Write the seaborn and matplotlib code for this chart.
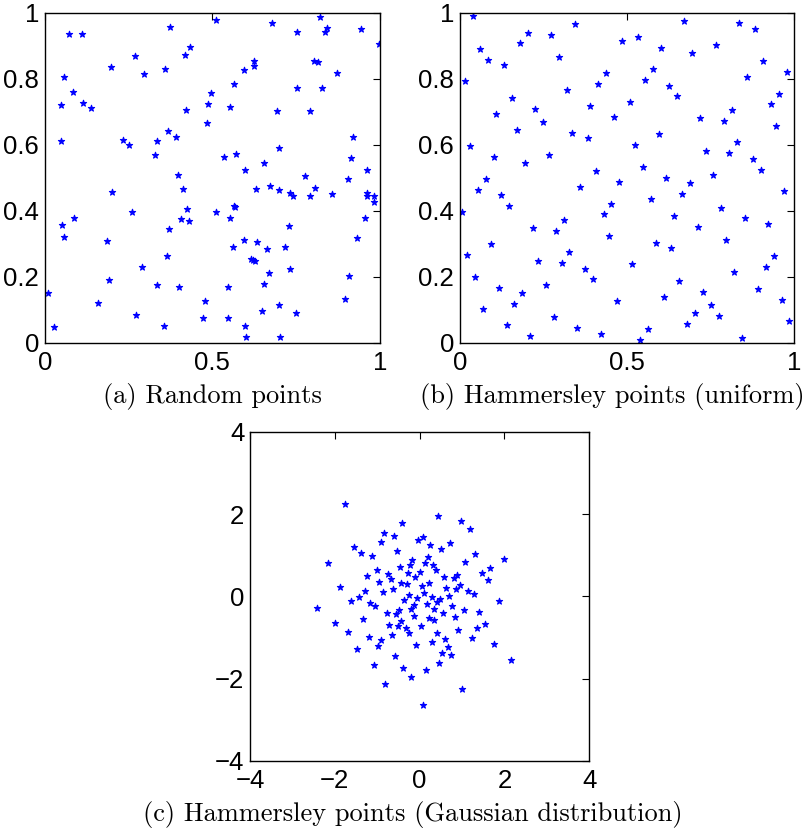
import matplotlib
matplotlib.use("Agg")
import matplotlib.pyplot as plt
import seaborn as sns
import pandas as pd

# ---------------- data ----------------
# (a) Random points
rand_x = [0.072, 0.112, 0.375, 0.434, 0.420, 0.270, 0.198, 0.359, 0.296, 0.058, 0.083, 0.049, 0.114,
          0.139, 0.496, 0.488, 0.422, 0.484, 0.049, 0.234, 0.253, 0.367, 0.391, 0.334, 0.328, 0.397,
          0.512, 0.679, 0.823, 0.754, 0.837, 0.844, 0.945, 0.999, 0.626, 0.626, 0.595, 0.803, 0.815,
          0.873, 0.566, 0.754, 0.829, 0.553, 0.693, 0.791, 0.919, 0.699, 0.536, 0.571, 0.915, 0.656,
          0.598, 0.961, 0.776, 0.904,
          0.413, 0.201, 0.425, 0.262, 0.088, 0.053, 0.059, 0.408, 0.432, 0.372, 0.185, 0.365, 0.291,
          0.193, 0.335, 0.400, 0.010, 0.160, 0.478, 0.273, 0.473, 0.029, 0.356,
          0.632, 0.673, 0.700, 0.733, 0.740, 0.807, 0.793, 0.858, 0.961, 0.962, 0.983, 0.983, 0.566,
          0.569, 0.511, 0.553, 0.956, 0.730, 0.931, 0.595, 0.634, 0.561, 0.665, 0.716, 0.616, 0.621,
          0.627, 0.670, 0.732, 0.909, 0.548, 0.656, 0.897, 0.700, 0.650, 0.750, 0.548, 0.597, 0.602,
          0.702]
rand_y = [0.935, 0.935, 0.958, 0.897, 0.872, 0.870, 0.834, 0.830, 0.813, 0.806, 0.761, 0.720, 0.725,
          0.711, 0.758, 0.724, 0.706, 0.666, 0.612, 0.613, 0.599, 0.642, 0.623, 0.610, 0.570, 0.509,
          0.978, 0.970, 0.987, 0.942, 0.943, 0.953, 0.951, 0.904, 0.853, 0.839, 0.825, 0.854, 0.850,
          0.818, 0.785, 0.771, 0.772, 0.715, 0.703, 0.703, 0.622, 0.589, 0.564, 0.571, 0.560, 0.544,
          0.523, 0.523, 0.505, 0.495,
          0.467, 0.458, 0.404, 0.396, 0.377, 0.358, 0.321, 0.375, 0.369, 0.345, 0.309, 0.264, 0.230,
          0.190, 0.175, 0.169, 0.151, 0.120, 0.125, 0.084, 0.076, 0.048, 0.052,
          0.466, 0.475, 0.463, 0.455, 0.445, 0.469, 0.445, 0.452, 0.453, 0.445, 0.445, 0.426, 0.413,
          0.410, 0.396, 0.378, 0.377, 0.355, 0.317, 0.310, 0.304, 0.289, 0.284, 0.289, 0.254, 0.250,
          0.248, 0.212, 0.224, 0.202, 0.169, 0.178, 0.133, 0.115, 0.095, 0.091, 0.074, 0.052, 0.017,
          0.017]

# (b) Hammersley points (uniform)
ham_x = [0.039, 0.344, 0.203, 0.274, 0.485, 0.179, 0.062, 0.086, 0.297, 0.133, 0.438, 0.015, 0.414,
         0.321, 0.156, 0.390, 0.226, 0.109, 0.461, 0.250, 0.171, 0.336, 0.383, 0.031, 0.266, 0.102,
         0.195, 0.406,
         0.532, 0.671, 0.836, 0.883, 0.602, 0.767, 0.695, 0.907, 0.578, 0.977, 0.860, 0.555, 0.626,
         0.954, 0.649, 0.508, 0.930, 0.814, 0.719, 0.790, 0.946, 0.595, 0.524, 0.829, 0.735, 0.806,
         0.876, 0.548, 0.900,
         0.078, 0.477, 0.054, 0.360, 0.124, 0.148, 0.453, 0.007, 0.430, 0.313, 0.218, 0.289, 0.445,
         0.094, 0.023, 0.328, 0.235, 0.305, 0.375, 0.047, 0.398, 0.258, 0.117, 0.187, 0.469, 0.163,
         0.071, 0.281, 0.140, 0.351, 0.421, 0.211,
         0.617, 0.758, 0.688, 0.969, 0.571, 0.664, 0.782, 0.640, 0.853, 0.922, 0.711, 0.797, 0.586,
         0.632, 0.938, 0.516, 0.914, 0.821, 0.656, 0.892, 0.727, 0.610, 0.962, 0.750, 0.704, 0.774,
         0.985, 0.680, 0.563, 0.845, 0.540]
ham_y = [0.989, 0.965, 0.939, 0.932, 0.915, 0.907, 0.890, 0.858, 0.866, 0.842, 0.816, 0.792, 0.783,
         0.767, 0.742, 0.717, 0.709, 0.693, 0.685, 0.669, 0.644, 0.635, 0.619, 0.595, 0.570, 0.562,
         0.545, 0.520,
         0.926, 0.976, 0.968, 0.952, 0.894, 0.902, 0.878, 0.853, 0.829, 0.820, 0.804, 0.796, 0.779,
         0.755, 0.747, 0.730, 0.722, 0.705, 0.681, 0.673, 0.657, 0.632, 0.599, 0.607, 0.582, 0.574,
         0.558, 0.533, 0.524,
         0.496, 0.488, 0.463, 0.471, 0.447, 0.413, 0.421, 0.397, 0.389, 0.373, 0.348, 0.339, 0.323,
         0.298, 0.266, 0.274, 0.248, 0.241, 0.224, 0.200, 0.192, 0.175, 0.167, 0.151, 0.126, 0.118,
         0.101, 0.077, 0.053, 0.045, 0.027, 0.019,
         0.500, 0.507, 0.484, 0.460, 0.435, 0.451, 0.409, 0.385, 0.377, 0.361, 0.352, 0.311, 0.303,
         0.287, 0.263, 0.238, 0.229, 0.213, 0.188, 0.164, 0.155, 0.139, 0.130, 0.114, 0.090, 0.081,
         0.065, 0.057, 0.041, 0.015, 0.008]

# (c) Hammersley points (Gaussian distribution)
gau_x = [-1.77, 0.44, 0.97, 1.19, -0.41, -0.84, -0.61, 0.07, -0.04, -0.92, 0.72, 0.25, -1.54, 0.51,
         -0.53, -1.38, 1.31, -1.12, 0.19, -0.17, 1.98, 1.08, 0.13, -2.16, -0.23, 0.31, -0.47, 0.38,
         1.67, -1.01, 0.01, -0.28, -0.75, 1.47, 0.88, -1.23, 0.58, -0.10, -0.68, 0.80, 1.60, -0.96,
         -0.43, 0.23, -0.31, 0.94, 0.05, -1.87, 0.63, 0.86, -0.63, -1.28, 1.15, -0.86, 0.11, 1.27,
         -0.24, 0.69, 0.30, -0.06, -1.42, 0.49, -0.36, 0.42, -1.61, 1.86, -1.16, 0.17, -0.13, -1.05,
         -2.43, -0.20, 0.77, 0.35, 1.04, -0.49, 1.41, -0.78, 0.56, -0.56, -0.14, 0.83, -1.33, 0.21,
         0.34, -0.45, -2.00, 1.53, -0.73, -0.52, 0.03, 1.36, -0.33, 0.90, -0.26, 0.40, -1.68, -0.65,
         -1.19, 1.23, -0.90, 0.60, 0.28, -0.08, -0.98, 1.76, 0.67, -1.48, 0.53, 0.75, -0.58, 2.15,
         0.46, -1.08, -0.39, 0.16, -0.20, -0.81, 1.01, 0.09]
gau_y = [2.24, 1.96, 1.84, 1.64, 1.78, 1.53, 1.47, 1.44, 1.36, 1.31, 1.29, 1.24, 1.21, 1.15, 1.09,
         1.06, 1.04, 0.99, 0.95, 0.89, 0.91, 0.84, 0.81, 0.80, 0.77, 0.75, 0.72, 0.65, 0.68, 0.64,
         0.60, 0.57, 0.54, 0.57, 0.53, 0.50, 0.46, 0.48, 0.43, 0.44, 0.39, 0.36, 0.33, 0.32, 0.29,
         0.27, 0.24, 0.23, 0.20, 0.17, 0.17, 0.14, 0.13, 0.10, 0.07, 0.06, 0.04, 0.02, -0.01, -0.05,
         -0.02, -0.06, -0.09, -0.13, -0.11, -0.11, -0.15, -0.18, -0.21, -0.23, -0.28, -0.30, -0.24,
         -0.31, -0.33, -0.34, -0.37, -0.40, -0.40, -0.43, -0.48, -0.51, -0.54, -0.53, -0.57, -0.61,
         -0.64, -0.66, -0.69, -0.72, -0.73, -0.76, -0.78, -0.82, -0.88, -0.90, -0.86, -0.95, -0.99,
         -1.00, -1.05, -1.04, -1.11, -1.17, -1.21, -1.15, -1.23, -1.29, -1.38, -1.43, -1.46, -1.55,
         -1.63, -1.66, -1.74, -1.79, -1.97, -2.14, -2.25, -2.65]

unit_xticks = [0, 0.5, 1]
unit_xlabels = ["0", "0.5", "1"]
unit_yticks = [0, 0.2, 0.4, 0.6, 0.8, 1]
unit_ylabels = ["0", "0.2", "0.4", "0.6", "0.8", "1"]
gau_ticks = [-4, -2, 0, 2, 4]
gau_labels = ["\u22124", "\u22122", "0", "2", "4"]

captions = ["(a) Random points",
            "(b) Hammersley points (uniform)",
            "(c) Hammersley points (Gaussian distribution)"]

# ---------------- plotting ----------------
sns.set_style("white")
plt.rcParams["font.family"] = ["Liberation Sans", "DejaVu Sans"]

W, H = 809, 833
fig = plt.figure(figsize=(W / 100, H / 100), dpi=100)


def frac(left, top, right, bottom):
    return [left / W, 1 - bottom / H, (right - left) / W, (bottom - top) / H]


ax_a = fig.add_axes(frac(44.7, 12.7, 379.7, 342.7))
ax_b = fig.add_axes(frac(459.7, 12.7, 794.3, 342.7))
ax_c = fig.add_axes(frac(250.0, 431.7, 589.3, 761.0))

panels = [
    (ax_a, pd.DataFrame({"x": rand_x, "y": rand_y}), (0, 1), unit_xticks, unit_xlabels, unit_yticks, unit_ylabels),
    (ax_b, pd.DataFrame({"x": ham_x, "y": ham_y}), (0, 1), unit_xticks, unit_xlabels, unit_yticks, unit_ylabels),
    (ax_c, pd.DataFrame({"x": gau_x, "y": gau_y}), (-4, 4), gau_ticks, gau_labels, gau_ticks, gau_labels),
]

for ax, df, lim, xt, xl, yt, yl in panels:
    sns.scatterplot(data=df, x="x", y="y", ax=ax, marker="*", s=22,
                    color="#0000ff", edgecolor="#0000ff", linewidth=0.8, legend=False)
    ax.set_xlim(*lim)
    ax.set_ylim(*lim)
    ax.set_xticks(xt)
    ax.set_xticklabels(xl)
    ax.set_yticks(yt)
    ax.set_yticklabels(yl)
    ax.set_xlabel("")
    ax.set_ylabel("")
    ax.tick_params(direction="in", top=True, right=True, length=5, width=0.8,
                   labelsize=18.5, pad=4, colors="black")
    ax.tick_params(axis="x", pad=6)
    for sp in ax.spines.values():
        sp.set_visible(True)
        sp.set_color("black")
        sp.set_linewidth(1.0)
    ax.set_facecolor("white")

cap_font = dict(family=["cmr10", "DejaVu Serif"], fontsize=19, color="black",
                ha="center", va="center")
fig.text(212 / W, 1 - 396 / H, captions[0], **cap_font)
fig.text(612 / W, 1 - 396 / H, captions[1], **cap_font)
fig.text(413 / W, 1 - 814 / H, captions[2], **cap_font)

fig.savefig("out.png", dpi=100, facecolor="white")
